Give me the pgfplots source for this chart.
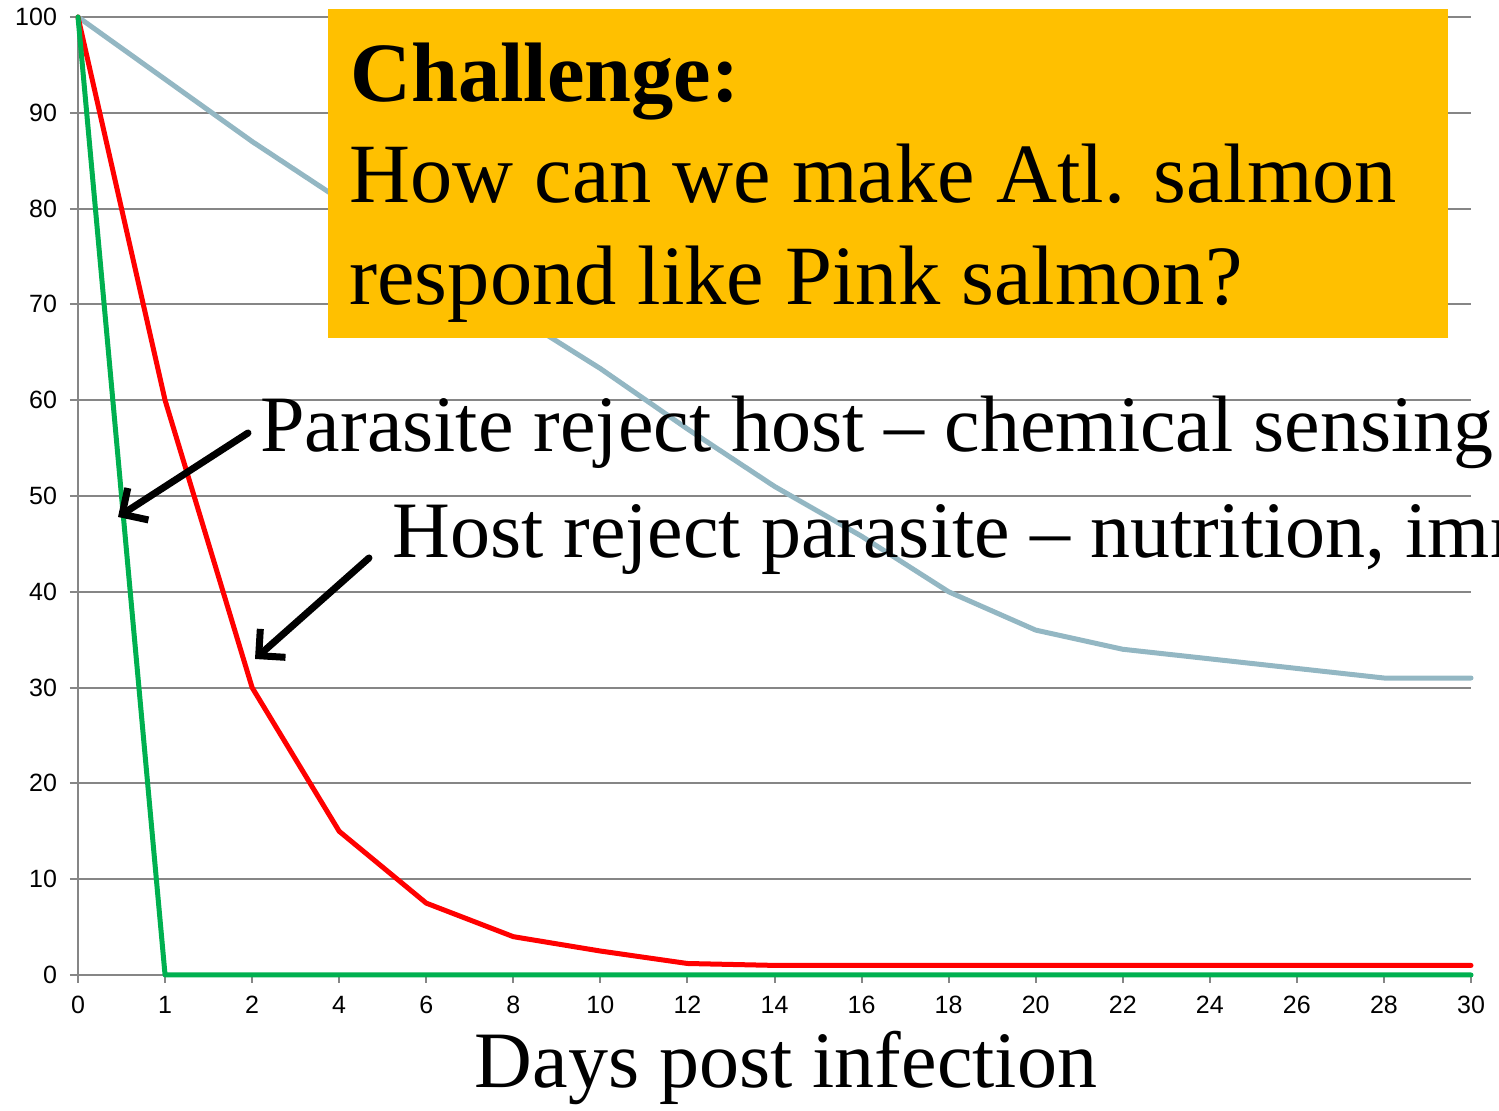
\documentclass[border=0pt]{standalone}
\usepackage{fontspec}
\setmainfont{Liberation Serif}
\newfontfamily\arial{Liberation Sans}
\usepackage{pgfplots}
\pgfplotsset{compat=1.18}
\usetikzlibrary{arrows.meta}
\definecolor{pblue}{RGB}{147,183,195}
\definecolor{pgreen}{RGB}{0,176,80}
\definecolor{pred}{RGB}{255,0,0}
\definecolor{pgrid}{RGB}{134,134,134}
\definecolor{porange}{RGB}{255,192,0}
\begin{document}
\begin{tikzpicture}[x=0.5pt,y=0.5pt]
\path[use as bounding box, clip] (0,0) rectangle (1499,1111);
\begin{axis}[at={(39pt,68pt)}, anchor=south west, scale only axis, width=696.5pt, height=479pt,
 xmin=0, xmax=16, ymin=0, ymax=100,
 xtick={0,...,16}, xticklabels={0,1,2,4,6,8,10,12,14,16,18,20,22,24,26,28,30},
 ytick={0,10,...,100},
 axis x line=bottom, axis y line=left, axis line style={-, pgrid, line width=1pt},
 ymajorgrids, grid style={pgrid, line width=1pt},
 tick align=outside, major tick length=4pt, tick style={pgrid, line width=1pt},
 ticklabel style={font=\arial\fontsize{12.5}{14}\selectfont, black},
 yticklabel style={xshift=-3pt},
 xticklabel style={yshift=-3pt},
 /pgf/number format/assume math mode=true,
 clip=false,
]
\addplot[pblue, line width=2.5pt, line join=round, line cap=round] coordinates {(0,100)(1,93.5)(2,87)(3,81)(4,75)(5,69)(6,63.3)(7,57)(8,51)(9,45.8)(10,40)(11,36)(12,34)(13,33)(14,32)(15,31)(16,31)};
\addplot[pred, line width=2.5pt, line join=round, line cap=round] coordinates {(0,100)(1,60)(2,30)(3,15)(4,7.5)(5,4)(6,2.5)(7,1.2)(8,1)(9,1)(10,1)(11,1)(12,1)(13,1)(14,1)(15,1)(16,1)};
\addplot[pgreen, line width=2.5pt, line join=round, line cap=round] coordinates {(0,100)(1,0)(2,0)(3,0)(4,0)(5,0)(6,0)(7,0)(8,0)(9,0)(10,0)(11,0)(12,0)(13,0)(14,0)(15,0)(16,0)};
\end{axis}
\fill[porange] (328,773) rectangle (1448,1102);
\node[anchor=base west, inner sep=0, font=\bfseries\fontsize{42.2}{50}\selectfont] at (350,1009) {Challenge:};
\node[anchor=base west, inner sep=0, font=\fontsize{42.2}{50}\selectfont] at (349,908) {How can we make Atl. salmon};
\node[anchor=base west, inner sep=0, font=\fontsize{42.2}{50}\selectfont] at (349,806) {respond like Pink salmon?};
\node[anchor=base west, inner sep=0, font=\fontsize{40}{46}\selectfont] at (260,659) {Parasite reject host – chemical sensing};
\node[anchor=base west, inner sep=0, font=\fontsize{40}{46}\selectfont] at (392,553) {Host reject parasite – nutrition, immunity};
\node[anchor=base, inner sep=0, font=\fontsize{40}{46}\selectfont] at (786,23) {Days post infection};
\draw[line width=3.5pt, line cap=round, -{Straight Barb[length=9.5pt, width=19pt]}] (248,678) -- (118,594);
\draw[line width=3.5pt, line cap=round, -{Straight Barb[length=9.5pt, width=19pt]}] (369,553) -- (255,452);
\end{tikzpicture}
\end{document}
